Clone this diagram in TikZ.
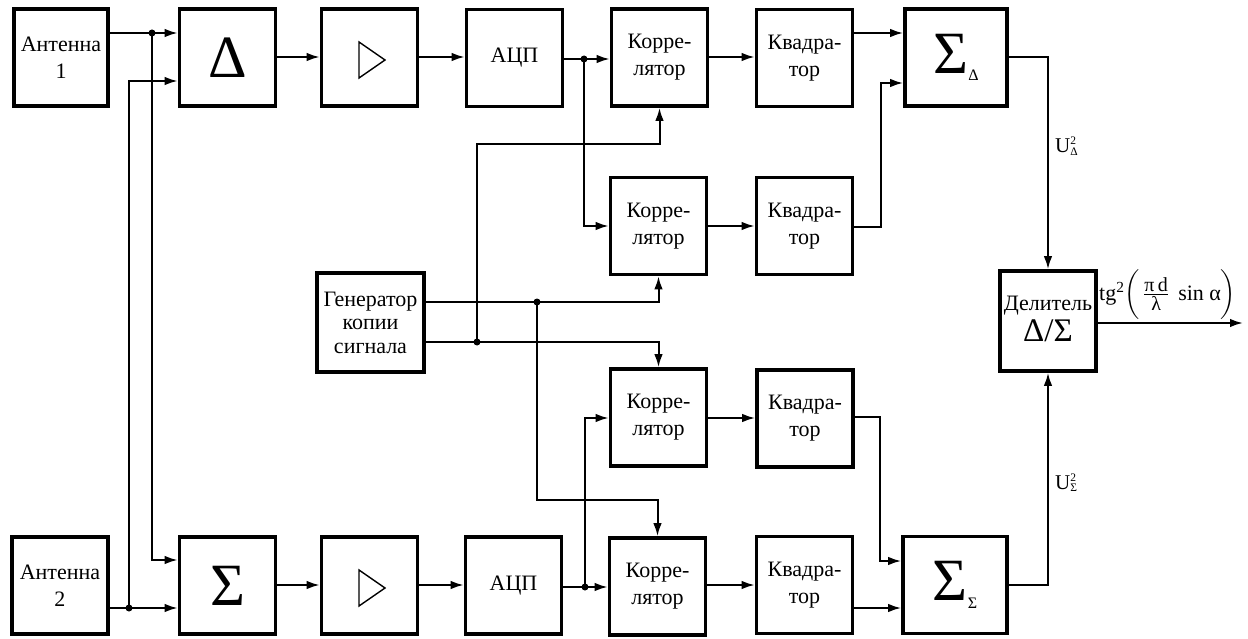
\documentclass[tikz,border=0pt]{standalone}
\usepackage{fontspec}
\usepackage{amsmath}
\setmainfont{Liberation Serif}
\usetikzlibrary{arrows.meta,calc}
\tikzset{
  blk/.style={draw, line width=3.6pt, minimum width=96pt, minimum height=97pt, inner sep=0pt, align=center, font=\fontsize{22}{27}\selectfont},
  wire/.style={line width=2pt},
  arr/.style={wire, -{Latex[length=13pt,width=8.5pt]}},
  jdot/.style={circle, fill, inner sep=0pt, minimum size=7pt},
  bigsym/.style={font=\fontsize{60}{62}\selectfont},
  lbl/.style={font=\fontsize{21}{22}\selectfont, inner sep=0pt},
  amptri/.style={line width=1.4pt, line join=miter}
}
\newcommand{\fsz}[1]{\mbox{\fontsize{20}{20}\selectfont #1}}
\newcommand{\uscr}[1]{\rlap{\raisebox{8pt}{\fontsize{11.5}{12}\selectfont 2}}\raisebox{-2.5pt}{\fontsize{11.5}{12}\selectfont #1}}
\begin{document}
\begin{tikzpicture}[x=1pt,y=-1pt]
\useasboundingbox (0,0) rectangle (1248,639);
% boxes
\node[blk, minimum width=94pt] (ant1) at (61,57.5) {Антенна\\1};
\node[blk] (ant2) at (60,585.5) {Антенна\\2};
\node[blk, bigsym] (delta) at (227.5,57.5) {Δ};
\node[blk, bigsym] (sigma) at (227.5,585.5) {Σ};
\node[blk] (amp1) at (369.5,57.5) {};
\node[blk] (amp2) at (369.5,585.5) {};
\node[blk] (adc1) at (514.5,58) {АЦП};
\node[blk] (adc2) at (513.5,585.5) {АЦП};
\node[blk] (cor1) at (659.5,57.5) {Корре-\\лятор};
\node[blk] (kv1) at (804.5,58) {Квадра-\\тор};
\node[blk] (cor2) at (658.5,226) {Корре-\\лятор};
\node[blk] (kv2) at (804.5,226) {Квадра-\\тор};
\node[blk] (cor3) at (658.5,417.5) {Корре-\\лятор};
\node[blk] (kv3) at (805,418.5) {Квадра-\\тор};
\node[blk] (cor4) at (657.5,586.5) {Корре-\\лятор};
\node[blk] (kv4) at (804.5,585) {Квадра-\\тор};
\node[blk, minimum width=102pt, bigsym] (sd) at (956,57.5) {Σ\raisebox{-7pt}{\fontsize{16}{16}\selectfont Δ}};
\node[blk, minimum width=104pt, bigsym] (ss) at (955,585) {Σ\raisebox{-8pt}{\fontsize{16}{16}\selectfont Σ}};
\node[blk, minimum height=100pt] (div) at (1048,321) {\begin{tabular}{@{}c@{}}Делитель\\[1pt]{\fontsize{33}{36}\selectfont Δ/Σ}\end{tabular}};
\node[blk, minimum width=107pt, minimum height=99pt, font=\fontsize{22}{23.5}\selectfont] (gen) at (370.5,322.5) {Генератор\\копии\\сигнала};
% amplifier triangles
\foreach \a in {amp1,amp2}{
  \draw[amptri] ([shift={(-10.5,-15.5)}]\a.center) -- ([shift={(15.5,2.5)}]\a.center) -- ([shift={(-10.5,20.5)}]\a.center) -- cycle;
}
% junctions
\node[jdot] (j1) at (152,33) {};
\node[jdot] (j2) at (129,608) {};
\node[jdot] (j3) at (584,59) {};
\node[jdot] (j4) at (537,302) {};
\node[jdot] (j5) at (477,342) {};
\node[jdot] (j6) at (585,587) {};
\coordinate (out) at (1243,323);
% connectors, antennas
\draw[arr] (ant1.east |- j1) -- (delta.west |- j1);
\draw[arr] (j1.center) |- (sigma.west |- 0,560);
\draw[arr] (ant2.east |- j2) -- (sigma.west |- j2);
\draw[arr] (j2.center) |- (delta.west |- 0,81);
% upper chain
\draw[arr] (delta.east |- 0,57) -- (amp1.west |- 0,57);
\draw[arr] (amp1.east |- 0,57) -- (adc1.west |- 0,57);
\draw[arr] (adc1.east |- j3) -- (cor1.west |- j3);
\draw[arr] (j3.center) |- (cor2.west |- 0,226);
\draw[arr] (cor1.east |- 0,57) -- (kv1.west |- 0,57);
\draw[arr] (cor2.east |- 0,226) -- (kv2.west |- 0,226);
\draw[arr] (kv1.east |- 0,33) -- (sd.west |- 0,33);
\draw[arr] (kv2.east |- 0,227) -- ++(27,0) |- (sd.west |- 0,83);
\draw[arr] (sd.east |- 0,57) -| (div.north);
% generator
\draw[arr] (gen.east |- j4) -| (cor2.south);
\draw[arr] (j4.center) -- (j4 |- 0,500) -| (cor4.north);
\draw[arr] (gen.east |- j5) -| (cor3.north);
\draw[arr] (j5.center) -- (j5 |- 0,144) -| (cor1.south);
% lower chain
\draw[arr] (sigma.east |- 0,585) -- (amp2.west |- 0,585);
\draw[arr] (amp2.east |- 0,585) -- (adc2.west |- 0,585);
\draw[arr] (adc2.east |- j6) -- (cor4.west |- j6);
\draw[arr] (j6.center) |- (cor3.west |- 0,418);
\draw[arr] (cor3.east |- 0,418) -- (kv3.west |- 0,418);
\draw[arr] (cor4.east |- 0,585) -- (kv4.west |- 0,585);
\draw[arr] (kv3.east |- 0,417) -- ++(25,0) |- (ss.west |- 0,561);
\draw[arr] (kv4.east |- 0,608) -- (ss.west |- 0,608);
\draw[arr] (ss.east |- 0,585) -| (div.south);
\draw[arr] (div.east |- out) -- (out);
% labels
\node[lbl, anchor=base west] (ud) at (1055,153) {U\uscr{Δ}};
\node[lbl, anchor=base west] (us) at (1055,489) {U\uscr{Σ}};
\node[lbl, font=\fontsize{22}{24}\selectfont, anchor=base west] (form) at (1099,300) {tg\textsuperscript{2}$\bigg(\,\frac{\fsz{π\,d}}{\fsz{λ}}\;\,\text{sin α}\bigg)$};
\end{tikzpicture}
\end{document}
